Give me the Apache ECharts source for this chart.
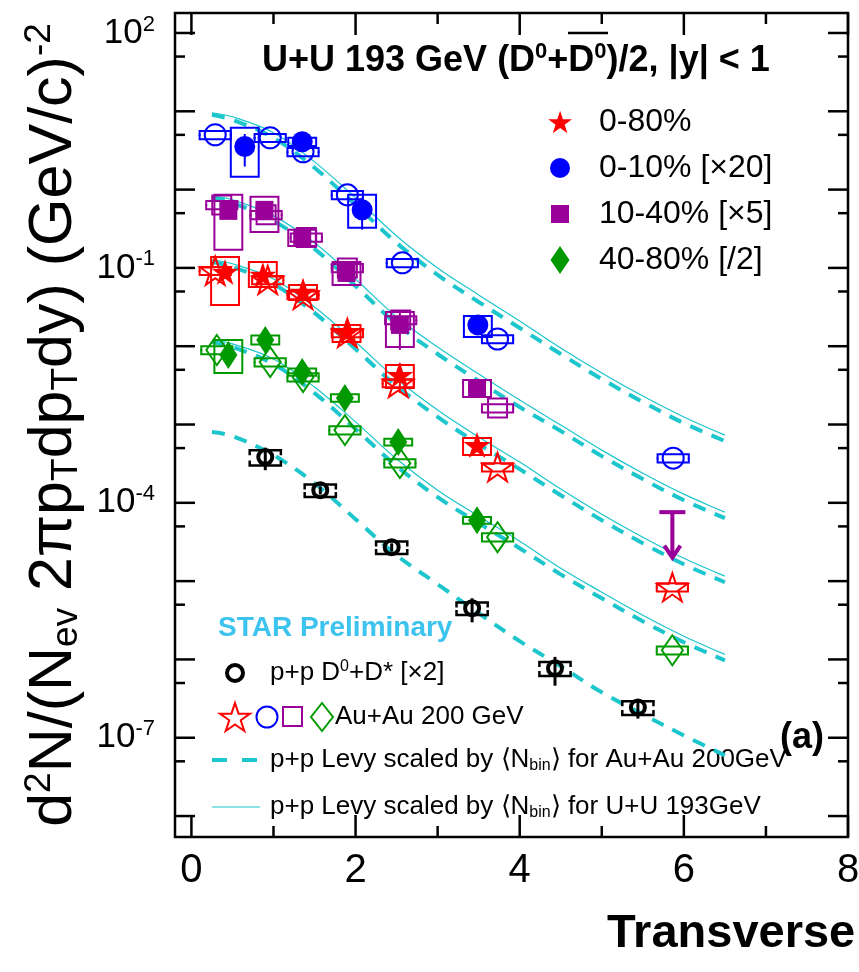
<!DOCTYPE html>
<html>
<head>
<meta charset="utf-8">
<style>
html, body { margin: 0; padding: 0; background: #fff; }
#main { width: 859px; height: 972px; }
</style>
<script src="https://cdn.jsdelivr.net/npm/echarts@6/dist/echarts.min.js"></script>
</head>
<body>
<div id="main"></div>
<script>
// D0 spectra, U+U 193 GeV vs Au+Au 200 GeV
const FONT = 'Liberation Sans, Arial, Helvetica, sans-serif'
const CYAN = '#1cc6cc'
const RED = '#ff0000'
const BLUE = '#0000ff'
const PURPLE = '#990099'
const GREEN = '#009a00'

// p+p Levy curves scaled by <Nbin>
const curveX = [0.25, 0.5, 1.0, 1.5, 2.0, 2.5, 3.0, 3.5, 4.0, 4.5, 5.0, 5.5, 6.0, 6.5]
const levyAu010 = [9.03, 7.79, 4.59, 1.90, 0.638, 0.209, 0.0813, 0.0367, 0.0171, 0.00795, 0.00381, 0.00194, 0.00104, 6.14e-4]
const levyUU010 = [9.58, 8.51, 5.32, 2.26, 0.785, 0.256, 0.100, 0.0452, 0.0210, 0.00949, 0.00455, 0.00231, 0.00125, 7.33e-4]
const levyAu1040 = [0.785, 0.677, 0.399, 0.175, 0.0588, 0.0192, 0.00795, 0.00359, 0.00167, 8.25e-4, 3.95e-4, 2.01e-4, 1.08e-4, 6.37e-5]
const levyUU1040 = [0.832, 0.740, 0.462, 0.209, 0.0723, 0.0236, 0.00977, 0.00441, 0.00205, 9.84e-4, 4.71e-4, 2.39e-4, 1.29e-4, 7.60e-5]
const levyAu080 = [0.119, 0.103, 0.0624, 0.0266, 0.00921, 0.00310, 0.00125, 5.62e-4, 2.69e-4, 1.25e-4, 6.00e-5, 3.05e-5, 1.64e-5, 9.68e-6]
const levyUU080 = [0.127, 0.113, 0.0723, 0.0317, 0.0113, 0.00381, 0.00153, 6.91e-4, 3.31e-4, 1.50e-4, 7.16e-5, 3.64e-5, 1.96e-5, 1.16e-5]
const levyAu4080 = [0.0113, 0.00977, 0.00592, 0.00252, 8.74e-4, 2.94e-4, 1.18e-4, 5.50e-5, 2.63e-5, 1.22e-5, 6.04e-6, 3.07e-6, 1.66e-6, 9.74e-7]
const levyUU4080 = [0.0120, 0.0107, 0.00687, 0.00301, 0.00108, 3.62e-4, 1.45e-4, 6.75e-5, 3.24e-5, 1.46e-5, 7.21e-6, 3.66e-6, 1.98e-6, 1.16e-6]
const levyPP = [8.01e-4, 7.12e-4, 4.07e-4, 1.78e-4, 6.18e-5, 2.14e-5, 9.13e-6, 3.89e-6, 1.71e-6, 8.17e-7, 3.80e-7, 1.99e-7, 1.07e-7, 5.95e-8]

// U+U 193 GeV (filled markers), stat error (relative) and sys boxes
const uu080X = [0.41, 0.87, 1.36, 1.89, 2.54, 3.48]
const uu080 = [0.0889, 0.0813, 0.0493, 0.0152, 0.00429, 5.46e-4]
const uu080Stat = [0.1, 0.1, 0.1, 0.1, 0.41, 0.12]
const uu080SysLo = [0.0336, 0.0571, 0.0390, 0.0113, 0.00292, 4.07e-4]
const uu080SysHi = [0.138, 0.119, 0.0606, 0.0187, 0.00575, 6.71e-4]

const uu010X = [0.65, 1.35, 2.08, 3.49]
const uu010 = [3.55, 4.08, 0.551, 0.0187]
const uu010Stat = [0.445, 0.1, 0.44, 0.1]
const uu010SysLo = [1.46, 3.6, 0.325, 0.0131]
const uu010SysHi = [6.16, 4.6, 0.857, 0.0243]

const uu1040X = [0.45, 0.89, 1.35, 1.89, 2.54, 3.48]
const uu1040 = [0.535, 0.551, 0.242, 0.0863, 0.0187, 0.00292]
const uu1040Stat = [0.1, 0.1, 0.1, 0.1, 0.52, 0.15]
const uu1040SysLo = [0.170, 0.288, 0.191, 0.0606, 0.00977, 0.00224]
const uu1040SysHi = [0.857, 0.808, 0.306, 0.119, 0.0274, 0.00370]
// upper limit, 10-40% at high pT
const ulX = [5.86]
const ulTop = [7.6e-5]
const ulTip = [2.0e-5]

const uu4080X = [0.45, 0.90, 1.35, 1.87, 2.52, 3.48]
const uu4080 = [0.00773, 0.0120, 0.00468, 0.00218, 5.97e-4, 6.01e-5]
const uu4080Stat = [0.1, 0.1, 0.1, 0.1, 0.1, 0.1]
const uu4080SysLo = [0.00455, 0.0105, 0.0042, 0.00195, 5.4e-4, 5.4e-5]
const uu4080SysHi = [0.0120, 0.0137, 0.0052, 0.00243, 6.6e-4, 6.6e-5]

// Au+Au 200 GeV (open markers), sys (relative)
const au080X = [0.29, 0.93, 1.36, 1.90, 2.52, 3.73, 5.86]
const au080 = [0.092, 0.0702, 0.0452, 0.01476, 0.00339, 2.86e-4, 8.36e-6]
const au080Sys = [0.12, 0.12, 0.12, 0.12, 0.12, 0.12, 0.12]

const au010X = [0.29, 0.96, 1.36, 1.90, 2.57, 3.73, 5.87]
const au010 = [5.01, 4.59, 3.04, 0.857, 0.116, 0.01236, 3.72e-4]
const au010Sys = [0.12, 0.12, 0.12, 0.12, 0.12, 0.12, 0.12]

const au1040X = [0.37, 0.91, 1.40, 1.90, 2.55, 3.73]
const au1040 = [0.638, 0.476, 0.245, 0.100, 0.0216, 0.00162]
const au1040Sys = [0.12, 0.12, 0.12, 0.12, 0.12, 0.12]

const au4080X = [0.31, 0.96, 1.36, 1.87, 2.54, 3.73, 5.86]
const au4080 = [0.00895, 0.00628, 0.00404, 8.49e-4, 3.21e-4, 3.64e-5, 1.31e-6]
const au4080Sys = [0.12, 0.12, 0.12, 0.12, 0.12, 0.12, 0.12]

// p+p D0+D* [x2]
const ppX = [0.90, 1.57, 2.44, 3.42, 4.43, 5.44]
const pp = [3.84e-4, 1.45e-4, 2.71e-5, 4.51e-6, 7.7e-7, 2.44e-7]
const ppStat = [0.32, 0.12, 0.12, 0.34, 0.4, 0.28]
const ppSys = [0.22, 0.18, 0.18, 0.18, 0.2, 0.2]

// axes
const xTicks = [0, 1, 2, 3, 4, 5, 6, 7, 8]
const xLabels = [0, 2, 4, 6, 8]
const yDecades = [1e2, 1e1, 1, 1e-1, 1e-2, 1e-3, 1e-4, 1e-5, 1e-6, 1e-7, 1e-8]
const yHalves = [50, 5, 0.5, 0.05, 5e-3, 5e-4, 5e-5, 5e-6, 5e-7, 5e-8]
const yLabels = [1e2, 1e-1, 1e-4, 1e-7]

const STAR = 'path://M50,0L61.2,34.5L97.6,34.5L68.2,55.9L79.4,90.5L50,69.1L20.6,90.5L31.8,55.9L2.4,34.5L38.8,34.5Z'
const DIAMOND = 'path://M10,0L20,15L10,30L0,15Z'
const starUnit = [[50, 0], [61.2, 34.5], [97.6, 34.5], [68.2, 55.9], [79.4, 90.5], [50, 69.1], [20.6, 90.5], [31.8, 55.9], [2.4, 34.5], [38.8, 34.5]]

// legend icons drawn inside a 28 x 28 frame so that their sizes differ as in the original
const FRAME = 'path://M0,0M28,28'
const icons = {
  star: FRAME + starUnit.map((p, i) => (i ? 'L' : 'M') + (1.6 + p[0] * 0.25).toFixed(2) + ',' + (2.7 + p[1] * 0.25).toFixed(2)).join('') + 'Z',
  circle: FRAME + 'M24,14A10,10,0,1,1,4,14A10,10,0,1,1,24,14Z',
  square: FRAME + 'M5,5L23,5L23,23L5,23Z',
  diamond: FRAME + 'M14,0L23.5,14L14,28L4.5,14Z'
}

const pts = (xs, ys) => xs.map((x, i) => [x, ys[i]])

function curve(ys, dashed) {
  return {
    type: 'line', silent: true, z: 1,
    data: pts(curveX, ys), smooth: 0.35, symbol: 'none',
    lineStyle: dashed ? { color: CYAN, width: 4, type: [13, 10] } : { color: CYAN, width: 1.2 }
  }
}

function marker(name, xs, ys, symbol, size, color, open, bw) {
  return {
    type: 'scatter', name, z: 5, data: pts(xs, ys), symbol, symbolSize: size,
    itemStyle: open
      ? { color: 'rgba(0,0,0,0)', borderColor: color, borderWidth: bw || 2, opacity: 1 }
      : { color, opacity: 1 }
  }
}

// sys boxes (U+U)
function boxes(xs, lo, hi, color) {
  const hw = 0.17
  return {
    type: 'custom', silent: true, z: 3,
    data: xs.map((x, i) => [x, lo[i], hi[i]]),
    encode: { x: 0, y: [1, 2] },
    renderItem(params, api) {
      const x = api.value(0)
      const a = api.coord([x - hw, api.value(2)])
      const b = api.coord([x + hw, api.value(1)])
      return {
        type: 'rect',
        shape: { x: a[0], y: a[1], width: b[0] - a[0], height: b[1] - a[1] },
        style: { fill: 'none', stroke: color, lineWidth: 2 }
      }
    }
  }
}

// sys brackets (Au+Au, p+p)
function brackets(xs, ys, rel, color, lw) {
  const hw = 0.19
  return {
    type: 'custom', silent: true, z: 4,
    data: xs.map((x, i) => [x, ys[i] * (1 - rel[i]), ys[i] * (1 + rel[i])]),
    encode: { x: 0, y: [1, 2] },
    renderItem(params, api) {
      const x = api.value(0)
      const lo = api.coord([x, api.value(1)])
      const hi = api.coord([x, api.value(2)])
      const w = api.coord([x + hw, api.value(1)])[0] - lo[0]
      const st = { stroke: color, fill: 'none', lineWidth: lw }
      return {
        type: 'group',
        children: [
          { type: 'polyline', shape: { points: [[lo[0] - w, hi[1] + 5], [lo[0] - w, hi[1]], [lo[0] + w, hi[1]], [lo[0] + w, hi[1] + 5]] }, style: st },
          { type: 'polyline', shape: { points: [[lo[0] - w, lo[1] - 5], [lo[0] - w, lo[1]], [lo[0] + w, lo[1]], [lo[0] + w, lo[1] - 5]] }, style: st }
        ]
      }
    }
  }
}

// stat error bars
function statBars(xs, ys, rel, color, lw) {
  return {
    type: 'custom', silent: true, z: 4,
    data: xs.map((x, i) => [x, ys[i] * (1 - rel[i]), ys[i] * (1 + rel[i])]),
    encode: { x: 0, y: [1, 2] },
    renderItem(params, api) {
      const a = api.coord([api.value(0), api.value(1)])
      const b = api.coord([api.value(0), api.value(2)])
      return { type: 'line', shape: { x1: a[0], y1: a[1], x2: b[0], y2: b[1] }, style: { stroke: color, lineWidth: lw } }
    }
  }
}

// ticks on all four sides of the frame
const tickData = xTicks.map(v => [v, 1, v % 2 === 0 ? 1 : 0, 0])
  .concat(yDecades.map(v => [0, v, 1, 1]))
  .concat(yHalves.map(v => [0, v, 0, 1]))

const tickSeries = {
  type: 'custom', silent: true, z: 6, clip: false,
  data: tickData,
  renderItem(params, api) {
    const cs = params.coordSys
    const major = api.value(2) === 1
    const st = { stroke: '#000', lineWidth: 2.5 }
    if (api.value(3) === 0) {
      const px = api.coord([api.value(0), 1])[0]
      const len = major ? 22 : 11
      return {
        type: 'group', children: [
          { type: 'line', shape: { x1: px, y1: cs.y + cs.height, x2: px, y2: cs.y + cs.height - len }, style: st },
          { type: 'line', shape: { x1: px, y1: cs.y, x2: px, y2: cs.y + len }, style: st }
        ]
      }
    }
    const py = api.coord([0, api.value(1)])[1]
    const len = major ? 20 : 10
    return {
      type: 'group', children: [
        { type: 'line', shape: { x1: cs.x, y1: py, x2: cs.x + len, y2: py }, style: st },
        { type: 'line', shape: { x1: cs.x + cs.width, y1: py, x2: cs.x + cs.width - len, y2: py }, style: st }
      ]
    }
  }
}

const ulSeries = {
  type: 'custom', silent: true, z: 5,
  data: ulX.map((x, i) => [x, ulTop[i], ulTip[i]]),
  encode: { x: 0, y: [1, 2] },
  renderItem(params, api) {
    const a = api.coord([api.value(0), api.value(1)])
    const b = api.coord([api.value(0), api.value(2)])
    const st = { stroke: PURPLE, lineWidth: 4, fill: 'none' }
    return {
      type: 'group', children: [
        { type: 'line', shape: { x1: a[0] - 13, y1: a[1], x2: a[0] + 13, y2: a[1] }, style: st },
        { type: 'line', shape: { x1: a[0], y1: a[1], x2: b[0], y2: b[1] - 2 }, style: st },
        { type: 'polyline', shape: { points: [[b[0] - 8, b[1] - 12], [b[0], b[1]], [b[0] + 8, b[1] - 12]] }, style: st }
      ]
    }
  }
}

const txt = (x, y, text, size, extra) => ({
  type: 'text', x, y, silent: true,
  style: Object.assign({ text, fontSize: size, fontFamily: FONT, fill: '#000', align: 'left', verticalAlign: 'middle' }, extra || {})
})
const legRich = {
  a: { fontSize: 26, fontFamily: FONT, color: '#000' },
  s: { fontSize: 16, fontFamily: FONT, color: '#000', padding: [0, 0, 12, 0] },
  b: { fontSize: 16, fontFamily: FONT, color: '#000', padding: [12, 0, 0, 0] }
}
// legend star icon, 30 x 28 box at (220, 703)
const legStar = starUnit.map(p => [220 + (p[0] - 2.4) * 30 / 95.2, 703 + p[1] * 28 / 90.5])

const chart = echarts.init(document.getElementById('main'))
chart.setOption({
  animation: false,
  backgroundColor: '#fff',
  title: {
    text: '{t|U+U 193 GeV (D}{s|0}{t|+D}{s|0}{t|)/2, |y| < 1}',
    left: 262, top: 41, padding: 0,
    textStyle: {
      rich: {
        t: { fontSize: 36, fontWeight: 'bold', fontFamily: FONT, color: '#000' },
        s: { fontSize: 22, fontWeight: 'bold', fontFamily: FONT, color: '#000', padding: [0, 0, 18, 0] }
      }
    }
  },
  legend: {
    data: [
      { name: '0-80%', icon: icons.star },
      { name: '0-10% [×20]', icon: icons.circle },
      { name: '10-40% [×5]', icon: icons.square },
      { name: '40-80% [/2]', icon: icons.diamond }
    ],
    orient: 'vertical', left: 541, top: 101,
    itemWidth: 28, itemHeight: 28, itemGap: 14, selectedMode: false,
    textStyle: { fontSize: 32, fontFamily: FONT, color: '#000', lineHeight: 32, padding: [0, 0, 0, 20] }
  },
  grid: {
    left: 175, top: 13, right: 11, bottom: 135,
    show: true, borderColor: '#000', borderWidth: 2.5, outerBoundsMode: 'none'
  },
  xAxis: {
    type: 'value', min: -0.2, max: 8,
    axisLine: { show: false }, axisTick: { show: false }, splitLine: { show: false },
    axisLabel: {
      customValues: xLabels,
      margin: 14, fontSize: 40, fontFamily: FONT, color: '#000'
    }
  },
  yAxis: {
    type: 'log', min: 5.4e-9, max: 180,
    axisLine: { show: false }, axisTick: { show: false }, splitLine: { show: false },
    axisLabel: {
      customValues: yLabels,
      margin: 20,
      formatter: v => '{b|10}{e|' + Math.round(Math.log10(v)) + '}',
      rich: {
        b: { fontSize: 35, fontFamily: FONT, color: '#000' },
        e: { fontSize: 22, fontFamily: FONT, color: '#000', padding: [0, 0, 17, 0] }
      }
    },
    name: '{m|d}{p|2}{m|N/(N}{q|ev}{m| 2πp}{q|T}{m|dp}{q|T}{m|dy) (GeV/c)}{p|-2}',
    nameLocation: 'middle', nameRotate: 90, nameGap: 80,
    nameTextStyle: {
      rich: {
        m: { fontSize: 61, fontFamily: FONT, color: '#000' },
        p: { fontSize: 37, fontFamily: FONT, color: '#000', padding: [0, 0, 28, 0] },
        q: { fontSize: 37, fontFamily: FONT, color: '#000', padding: [26, 0, 0, 0] }
      }
    }
  },
  graphic: [
    { type: 'line', silent: true, shape: { x1: 568, y1: 33, x2: 608, y2: 33 }, style: { stroke: '#000', lineWidth: 2.5 } },
    txt(802, 738, '(a)', 36, { fontWeight: 'bold', align: 'center' }),
    txt(607, 934, 'Transverse', 47, { fontWeight: 'bold' }),
    txt(218, 628, 'STAR Preliminary', 28, { fontWeight: 'bold', fill: '#3cc3ee' }),
    { type: 'circle', silent: true, shape: { cx: 235, cy: 673, r: 8 }, style: { fill: 'none', stroke: '#000', lineWidth: 4 } },
    txt(270, 673, '{a|p+p D}{s|0}{a|+D* [×2]}', 26, { rich: legRich }),
    { type: 'polygon', silent: true, shape: { points: legStar }, style: { fill: 'none', stroke: RED, lineWidth: 2 } },
    { type: 'circle', silent: true, shape: { cx: 267, cy: 717, r: 10.5 }, style: { fill: 'none', stroke: BLUE, lineWidth: 2 } },
    { type: 'rect', silent: true, shape: { x: 283, y: 707, width: 19, height: 19 }, style: { fill: 'none', stroke: PURPLE, lineWidth: 2 } },
    { type: 'polygon', silent: true, shape: { points: [[322, 703], [333, 717], [322, 731], [311, 717]] }, style: { fill: 'none', stroke: GREEN, lineWidth: 2 } },
    txt(335, 717, 'Au+Au 200 GeV', 26),
    { type: 'line', silent: true, shape: { x1: 212, y1: 760, x2: 258, y2: 760 }, style: { stroke: CYAN, lineWidth: 4, lineDash: [15, 15] } },
    txt(270, 760, '{a|p+p Levy scaled by ⟨N}{b|bin}{a|⟩ for Au+Au 200GeV}', 26, { rich: legRich }),
    { type: 'line', silent: true, shape: { x1: 212, y1: 807, x2: 260, y2: 807 }, style: { stroke: CYAN, lineWidth: 1.2 } },
    txt(270, 807, '{a|p+p Levy scaled by ⟨N}{b|bin}{a|⟩ for U+U 193GeV}', 26, { rich: legRich })
  ],
  series: [
    curve(levyAu010, true), curve(levyUU010, false),
    curve(levyAu1040, true), curve(levyUU1040, false),
    curve(levyAu080, true), curve(levyUU080, false),
    curve(levyAu4080, true), curve(levyUU4080, false),
    curve(levyPP, true),

    boxes(uu080X, uu080SysLo, uu080SysHi, RED),
    boxes(uu010X, uu010SysLo, uu010SysHi, BLUE),
    boxes(uu1040X, uu1040SysLo, uu1040SysHi, PURPLE),
    boxes(uu4080X, uu4080SysLo, uu4080SysHi, GREEN),

    brackets(au080X, au080, au080Sys, RED, 2),
    brackets(au010X, au010, au010Sys, BLUE, 2),
    brackets(au1040X, au1040, au1040Sys, PURPLE, 2),
    brackets(au4080X, au4080, au4080Sys, GREEN, 2),
    brackets(ppX, pp, ppSys, '#000', 2.5),

    statBars(uu080X, uu080, uu080Stat, RED, 2),
    statBars(uu010X, uu010, uu010Stat, BLUE, 2),
    statBars(uu1040X, uu1040, uu1040Stat, PURPLE, 2),
    statBars(uu4080X, uu4080, uu4080Stat, GREEN, 2),
    statBars(ppX, pp, ppStat, '#000', 3),

    marker('Au+Au 0-80%', au080X, au080, STAR, [30, 28], RED, true),
    marker('Au+Au 0-10%', au010X, au010, 'circle', 21, BLUE, true),
    marker('Au+Au 10-40%', au1040X, au1040, 'rect', 19, PURPLE, true),
    marker('Au+Au 40-80%', au4080X, au4080, DIAMOND, [21, 30], GREEN, true),
    marker('p+p D0+D* [×2]', ppX, pp, 'circle', 14, '#000', true, 4),

    marker('0-80%', uu080X, uu080, STAR, [27, 26], RED, false),
    marker('0-10% [×20]', uu010X, uu010, 'circle', 21, BLUE, false),
    marker('10-40% [×5]', uu1040X, uu1040, 'rect', 18, PURPLE, false),
    marker('40-80% [/2]', uu4080X, uu4080, DIAMOND, [18, 28], GREEN, false),

    ulSeries,
    tickSeries
  ]
})
</script>
</body>
</html>
